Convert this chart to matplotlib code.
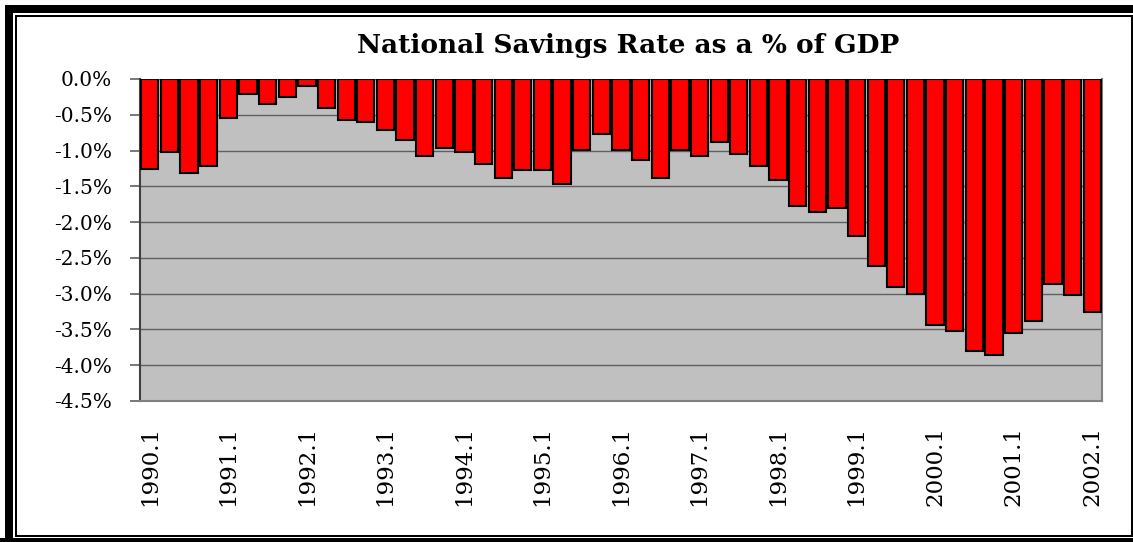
import matplotlib
matplotlib.use("Agg")
import matplotlib.pyplot as plt
from matplotlib.patches import Rectangle
import numpy as np

# Data: quarterly national savings rate (% of GDP), 1990.1 - 2002.1
quarters = [f"{y}.{q}" for y in range(1990, 2003) for q in range(1, 5)][:49]
values = [-1.26, -1.02, -1.32, -1.22,
          -0.55, -0.21, -0.35, -0.25,
          -0.10, -0.41, -0.57, -0.60,
          -0.71, -0.85, -1.08, -0.97,
          -1.02, -1.19, -1.38, -1.27,
          -1.27, -1.47, -0.99, -0.77,
          -0.99, -1.13, -1.38, -0.99,
          -1.08, -0.875, -1.05, -1.22,
          -1.41, -1.77, -1.86, -1.80,
          -2.19, -2.61, -2.91, -3.00,
          -3.44, -3.52, -3.80, -3.86,
          -3.55, -3.38, -2.86, -3.02,
          -3.25]
tick_labels = [q for q in quarters if q.endswith(".1")]
yticks = [0.0, -0.5, -1.0, -1.5, -2.0, -2.5, -3.0, -3.5, -4.0, -4.5]
title = "National Savings Rate as a % of GDP"

W, H = 1133, 542
fig = plt.figure(figsize=(W / 100, H / 100), dpi=100)
fig.patch.set_facecolor("white")

ax = fig.add_axes([140 / W, 1 - 401 / H, (1102 - 140) / W, (401 - 79) / H])
ax.set_facecolor("#C0C0C0")

x = np.arange(len(values))
ax.bar(x, values, width=0.88, color="#FF0000", edgecolor="black", linewidth=1.5, zorder=3)

ax.set_xlim(-0.5, len(values) - 0.5)
ax.set_ylim(-4.5, 0.0)
ax.set_yticks(yticks)
ax.set_yticklabels([f"{v:.1f}%" for v in yticks], fontsize=14.5, family="DejaVu Serif")
ax.yaxis.grid(True, color="#606060", linewidth=1.0, zorder=1)
ax.set_axisbelow(True)

tick_pos = [i for i, q in enumerate(quarters) if q.endswith(".1")]
ax.set_xticks(tick_pos)
ax.set_xticklabels(tick_labels, rotation=90, fontsize=16.5, family="DejaVu Serif",
                   va="top", ha="center")
ax.tick_params(axis="x", length=0, pad=18)
ax.tick_params(axis="y", length=7.2, width=1.2, color="#606060", pad=13)

for side in ["left", "bottom", "right"]:
    ax.spines[side].set_color("#808080")
    ax.spines[side].set_linewidth(1.5)
ax.spines["left"].set_color("#404040")
ax.spines["top"].set_visible(False)

fig.text(628 / W, 1 - 46 / H, title, ha="center", va="center",
         fontsize=19, fontweight="bold", family="DejaVu Serif")

# Double frame
fig.patches.append(Rectangle((9 / W, -0.1), 1.2, (542 - 9) / H + 0.1,
                             transform=fig.transFigure, fill=False,
                             edgecolor="black", linewidth=8 * 0.72))
fig.patches.append(Rectangle((16 / W, 1 - 535.5 / H), (1131.5 - 16) / W, (535.5 - 16) / H,
                             transform=fig.transFigure, fill=False,
                             edgecolor="black", linewidth=2 * 0.72))
fig.patches.append(Rectangle((0, 0), 1, 4 / H, transform=fig.transFigure,
                             facecolor="black", edgecolor="none"))

fig.savefig("out.png", dpi=100)
